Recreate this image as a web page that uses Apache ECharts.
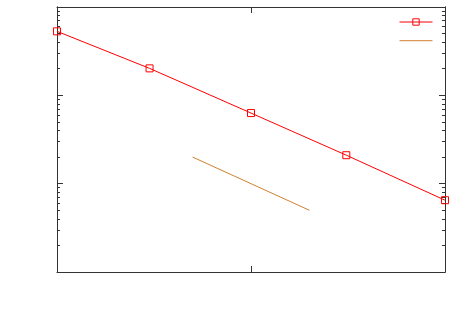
<!DOCTYPE html>
<html>
<head>
<meta charset="utf-8">
<script src="https://cdn.jsdelivr.net/npm/echarts@6/dist/echarts.min.js"></script>
<style>html,body{margin:0;padding:0;background:#fff}#c{width:460px;height:311px}</style>
</head>
<body>
<div id="c"></div>
<script>
// data (log-log plot, no labels)
var xValues = [1, 3, 10, 31, 100];
var yValues = [0.53, 0.202, 0.063, 0.021, 0.0065];
var refX = [5, 20];
var refY = [0.02, 0.005];
var xMin = 1, xMax = 100;
var yMin = 0.001, yMax = 1;
var yMinorTicks = [];
[0.001, 0.01, 0.1].forEach(function (d) {
  for (var k = 2; k <= 9; k++) yMinorTicks.push(+(d * k).toPrecision(3));
});

var axisColor = '#333';
function xAx(pos) {
  return {
    type: 'log', logBase: 10, min: xMin, max: xMax, position: pos,
    axisLine: { show: true, onZero: false, lineStyle: { color: axisColor, width: 1 } },
    axisTick: { show: true, inside: true, length: 6, lineStyle: { color: axisColor } },
    axisLabel: { show: false }, splitLine: { show: false }, minorTick: { show: false }
  };
}
function yAx(pos, minor) {
  var tick = { show: true, inside: true, length: minor ? 3 : 6, lineStyle: { color: axisColor } };
  if (minor) tick.customValues = yMinorTicks;
  return {
    type: 'log', logBase: 10, min: yMin, max: yMax, position: pos,
    axisLine: { show: true, onZero: false, lineStyle: { color: axisColor, width: 1 } },
    axisTick: tick,
    axisLabel: { show: false }, splitLine: { show: false }, minorTick: { show: false }
  };
}

var chart = echarts.init(document.getElementById('c'), null, { renderer: 'canvas' });
chart.setOption({
  animation: false,
  backgroundColor: '#fff',
  grid: { left: 57, right: 15, top: 7, bottom: 39, containLabel: false },
  legend: {
    orient: 'vertical', right: 22, top: 13, itemWidth: 33, itemHeight: 8, itemGap: 11,
    formatter: function () { return ''; },
    lineStyle: { width: 1 },
    data: [
      { name: 'a', lineStyle: { width: 1 },
        itemStyle: { color: 'rgba(255,255,255,0)', borderColor: '#ff0000', borderWidth: 1 } },
      { name: 'b', lineStyle: { width: 1 }, itemStyle: { opacity: 0 } }
    ]
  },
  xAxis: [xAx('bottom'), xAx('top')],
  yAxis: [yAx('left', false), yAx('left', true), yAx('right', false), yAx('right', true)],
  series: [
    {
      name: 'a', type: 'line', xAxisIndex: 0, yAxisIndex: 0,
      data: xValues.map(function (x, i) { return [x, yValues[i]]; }),
      symbol: 'rect', symbolSize: 7,
      itemStyle: { color: 'rgba(255,255,255,0)', borderColor: '#ff0000', borderWidth: 1 },
      lineStyle: { color: '#ff0000', width: 1 }
    },
    {
      name: 'b', type: 'line', xAxisIndex: 0, yAxisIndex: 0,
      data: refX.map(function (x, i) { return [x, refY[i]]; }),
      symbol: 'none', showSymbol: false,
      itemStyle: { color: '#d08030' },
      lineStyle: { color: '#d08030', width: 1 }
    }
  ]
});
</script>
</body>
</html>
